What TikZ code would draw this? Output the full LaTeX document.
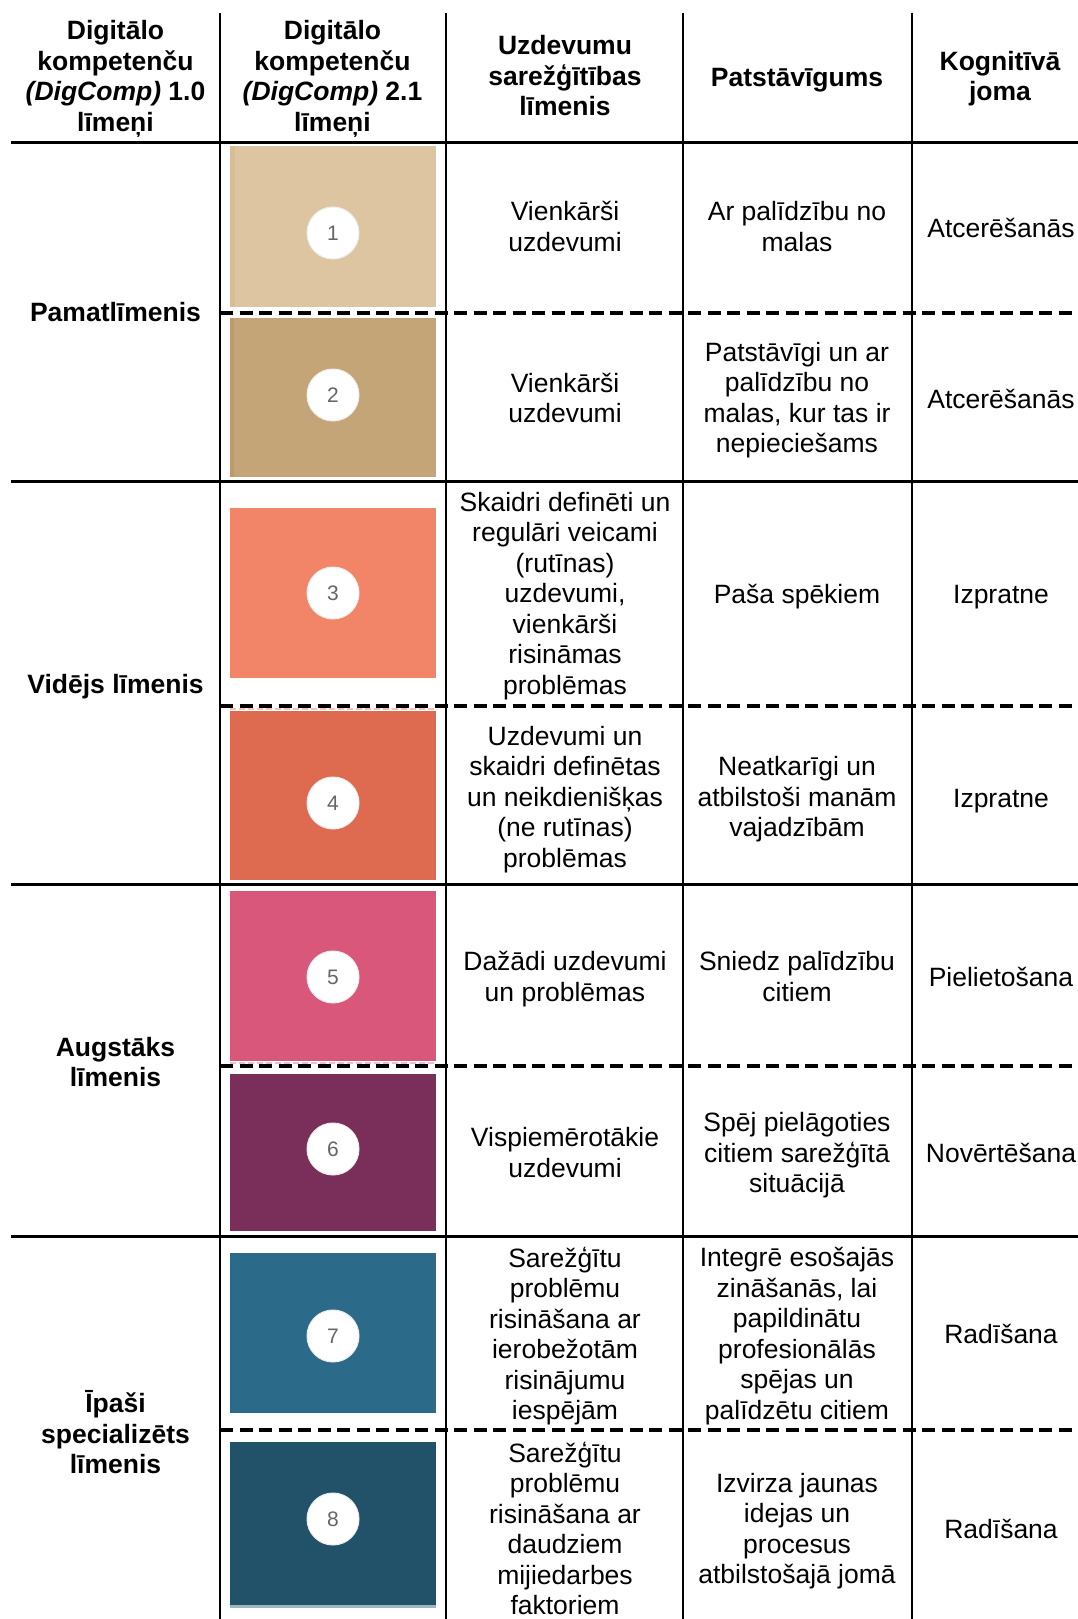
\documentclass[tikz,border=0pt]{standalone}
\usepackage{fontspec}
\setmainfont{Liberation Sans}
\definecolor{lvA}{HTML}{DCC5A0}
\definecolor{lvAs}{HTML}{D5BE97}
\definecolor{lvB}{HTML}{C4A577}
\definecolor{lvBs}{HTML}{BA9B6C}
\definecolor{lvC}{HTML}{F28468}
\definecolor{lvD}{HTML}{DE6B50}
\definecolor{lvE}{HTML}{D8577B}
\definecolor{lvF}{HTML}{7A2F5A}
\definecolor{lvG}{HTML}{2C6A89}
\definecolor{lvH}{HTML}{22526A}
\definecolor{lvHs}{HTML}{9FB5C1}
\begin{document}
\begin{tikzpicture}[x=1pt,y=-1pt,
  txt/.style={font=\fontsize{26.5}{30.5}\selectfont, align=center, inner sep=0pt, yshift=-4pt,
    execute at begin node=\strut, execute at end node=\strut},
  hdr/.style={txt, font=\fontsize{26.5}{30.5}\selectfont\bfseries},
  solidline/.style={line width=3pt},
  vline/.style={line width=2.7pt},
  dashline/.style={line width=3.3pt, dash pattern=on 13pt off 6.5pt},
  levelbox/.style={inner sep=0pt, minimum width=206pt, draw=none},
  badge/.style={circle, fill=white, draw=black!7, line width=1pt, minimum size=52pt,
    inner sep=0pt, text=black!60, font=\fontsize{21}{23}\selectfont},
  edgedash/.style={white, line width=2pt, dash pattern=on 6pt off 3pt},
]
\fill[white] (0,0) rectangle (1078,1619);
\useasboundingbox (0,0) rectangle (1078,1619);

% coloured level boxes
\node[levelbox, fill=lvA, minimum height=161pt] (b1) at (333,226.5) {};
\fill[lvAs] (b1.north west) rectangle ([xshift=5pt]b1.south west);
\node[levelbox, fill=lvB, minimum height=159pt] (b2) at (333,397.5) {};
\fill[lvBs] (b2.north west) rectangle ([xshift=4pt]b2.south west);
\node[levelbox, fill=lvC, minimum height=170pt] (b3) at (333,593) {};
\draw[edgedash] ([yshift=-2pt]b3.south west) -- ([yshift=-2pt]b3.south east);
\node[levelbox, fill=lvD, minimum height=169pt] (b4) at (333,795.5) {};
\draw[edgedash, white!60!lvD] ([yshift=2pt]b4.north west) -- ([yshift=2pt]b4.north east);
\node[levelbox, fill=lvE, minimum height=170pt] (b5) at (333,976) {};
\draw[edgedash, white!60!lvE, line width=1.5pt] ([yshift=-2pt]b5.south west) -- ([yshift=-2pt]b5.south east);
\node[levelbox, fill=lvF, minimum height=157pt] (b6) at (333,1152.5) {};
\node[levelbox, fill=lvG, minimum height=160pt] (b7) at (333,1333) {};
\node[levelbox, fill=lvH, minimum height=163pt] (b8) at (333,1523.5) {};
\fill[lvHs] ([yshift=-3pt]b8.south west) rectangle (b8.south east);

% number badges
\node[badge] (n1) at (333,233) {1};
\node[badge] (n2) at (333,395) {2};
\node[badge] (n3) at (333,593) {3};
\node[badge] (n4) at (333,803) {4};
\node[badge] (n5) at (333,977) {5};
\node[badge] (n6) at (333,1149) {6};
\node[badge] (n7) at (333,1336) {7};
\node[badge] (n8) at (333,1519) {8};

% table rules
\foreach \xx in {220,446,683,912} \draw[vline] (\xx,13) -- (\xx,1619);
\foreach \yy in {142.7,481,884,1236} \draw[solidline] (11,\yy) -- (1078,\yy);
\foreach \yy in {313,706,1066,1430} \draw[dashline] (220,\yy) -- (1078,\yy);

% header
\node[hdr] (h1) at (115.5,76.4) {Digitālo\\kompetenču\\\textit{(DigComp)} 1.0\\līmeņi};
\node[hdr] (h2) at (332.5,76.4) {Digitālo\\kompetenču\\\textit{(DigComp)} 2.1\\līmeņi};
\node[hdr] (h3) at (565,76.4) {Uzdevumu\\sarežģītības\\līmenis};
\node[hdr] (h4) at (797,76.4) {Patstāvīgums};
\node[hdr] (h5) at (1000,76.4) {Kognitīvā\\joma};

% level labels
\node[hdr] (l1) at (115.5,311) {Pamatlīmenis};
\node[hdr] (l2) at (115.5,683.5) {Vidējs līmenis};
\node[hdr] (l3) at (115.5,1062.5) {Augstāks\\līmenis};
\node[hdr] (l4) at (115.5,1433) {Īpaši\\specializēts\\līmenis};

% task complexity
\node[txt] (t1) at (565,227) {Vienkārši\\uzdevumi};
\node[txt] (t2) at (565,398.5) {Vienkārši\\uzdevumi};
\node[txt] (t3) at (565,593.7) {Skaidri definēti un\\regulāri veicami\\(rutīnas)\\uzdevumi,\\vienkārši\\risināmas\\problēmas};
\node[txt] (t4) at (565,797) {Uzdevumi un\\skaidri definētas\\un neikdienišķas\\(ne rutīnas)\\problēmas};
\node[txt] (t5) at (565,976.8) {Dažādi uzdevumi\\un problēmas};
\node[txt] (t6) at (565,1153) {Vispiemērotākie\\uzdevumi};
\node[txt] (t7) at (565,1334) {Sarežģītu\\problēmu\\risināšana ar\\ierobežotām\\risinājumu\\iespējām};
\node[txt] (t8) at (565,1528.8) {Sarežģītu\\problēmu\\risināšana ar\\daudziem\\mijiedarbes\\faktoriem};

% autonomy
\node[txt] (a1) at (797,227) {Ar palīdzību no\\malas};
\node[txt] (a2) at (797,398) {Patstāvīgi un ar\\palīdzību no\\malas, kur tas ir\\nepieciešams};
\node[txt] (a3) at (797,593.7) {Paša spēkiem};
\node[txt] (a4) at (797,797) {Neatkarīgi un\\atbilstoši manām\\vajadzībām};
\node[txt] (a5) at (797,976.8) {Sniedz palīdzību\\citiem};
\node[txt] (a6) at (797,1153) {Spēj pielāgoties\\citiem sarežģītā\\situācijā};
\node[txt] (a7) at (797,1334) {Integrē esošajās\\zināšanās, lai\\papildinātu\\profesionālās\\spējas un\\palīdzētu citiem};
\node[txt] (a8) at (797,1529) {Izvirza jaunas\\idejas un\\procesus\\atbilstošajā jomā};

% cognitive domain
\node[txt] (k1) at (1001,227) {Atcerēšanās};
\node[txt] (k2) at (1001,398.6) {Atcerēšanās};
\node[txt] (k3) at (1001,593.7) {Izpratne};
\node[txt] (k4) at (1001,797) {Izpratne};
\node[txt] (k5) at (1001,976.8) {Pielietošana};
\node[txt] (k6) at (1001,1152) {Novērtēšana};
\node[txt] (k7) at (1001,1333) {Radīšana};
\node[txt] (k8) at (1001,1528) {Radīšana};
\end{tikzpicture}
\end{document}
